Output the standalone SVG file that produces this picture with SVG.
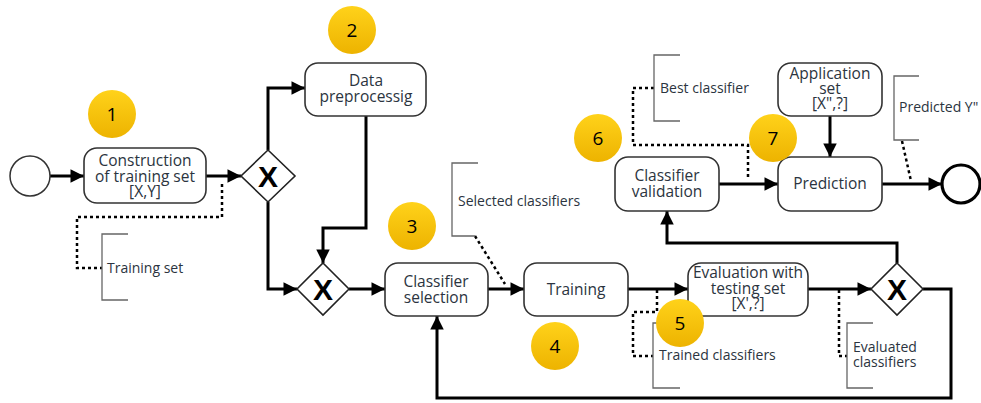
<svg xmlns="http://www.w3.org/2000/svg" width="981" height="403" viewBox="0 0 981 403">
<defs>
<linearGradient id="gold" x1="0" y1="0" x2="0" y2="1">
<stop offset="0" stop-color="#FFD21A"/>
<stop offset="1" stop-color="#EDB300"/>
</linearGradient>
<marker id="arr" viewBox="0 0 10 10" refX="10" refY="5" markerWidth="5" markerHeight="4.5" markerUnits="strokeWidth" orient="auto">
<path d="M0,0 L10,5 L0,10 z" fill="#000"/>
</marker>
</defs>
<style>
.task{fill:#fff;stroke:#333;stroke-width:1.6}
.gw{fill:#fff;stroke:#222;stroke-width:1.6}
.gx{font-family:"Liberation Sans",Arial,sans-serif;font-weight:bold;font-size:30px;fill:#000;text-anchor:middle}
.t{font-family:"Open Sans","Noto Sans",sans-serif;font-size:15.5px;fill:#2b3440;text-anchor:middle}
.a{font-family:"Open Sans","Noto Sans",sans-serif;font-size:14px;fill:#2b3440}
.flow{fill:none;stroke:#000;stroke-width:3;marker-end:url(#arr)}
.dot{fill:none;stroke:#000;stroke-width:2.5;stroke-dasharray:3 3}
.br{fill:none;stroke:#666;stroke-width:1.3}
.num{fill:url(#gold)}
.nt{font-family:"Open Sans","Noto Sans",sans-serif;font-size:19px;fill:#000;text-anchor:middle}
</style>

<g id="connectors">
<path class="flow" d="M50,176 L84,176"/>
<path class="flow" d="M206,176 L241,176"/>
<path class="flow" d="M268,150 L268,88 L305,88"/>
<path class="flow" d="M268,202 L268,289 L297,289"/>
<path class="flow" d="M366,116 L366,228 L323,228 L323,263"/>
<path class="flow" d="M349,289 L385,289"/>
<path class="flow" d="M488,289 L524,289"/>
<path class="flow" d="M628,289 L688,289"/>
<path class="flow" d="M808,289 L871,289"/>
<path class="flow" d="M923,289 L951,289 L951,398 L437,398 L437,316"/>
<path class="flow" d="M897,263 L897,243 L667,243 L667,211"/>
<path class="flow" d="M719,184 L778,184"/>
<path class="flow" d="M830,116 L830,157"/>
<path class="flow" d="M882,184 L942,184"/>
<path class="dot" d="M222,184 L222,217 L77,217 L77,268 L102,268"/>
<path class="dot" d="M475,236 L505,284"/>
<path class="dot" d="M657,290 L657,312 L633,312 L633,356 L653,356"/>
<path class="dot" d="M839,290 L839,356 L847,356"/>
<path class="dot" d="M654,88 L633,88 L633,145 L748,145 L748,180"/>
<path class="dot" d="M902,141 L911,181"/>
</g>

<g id="start"><circle cx="30" cy="176" r="20" fill="#fff" stroke="#333" stroke-width="1.5"/></g>
<g id="end"><circle cx="961" cy="184" r="19" fill="#fff" stroke="#000" stroke-width="3.2"/></g>

<g id="construction">
<rect class="task" x="84" y="148" width="122" height="55" rx="13"/>
<text class="t" x="145" y="166">Construction</text>
<text class="t" x="145" y="181.5">of training set</text>
<text class="t" x="145" y="197">[X,Y]</text>
</g>

<g id="gw1">
<path class="gw" d="M268,150 L295,176 L268,202 L241,176 z"/>
<text class="gx" x="268" y="187">X</text>
</g>

<g id="preprocessing">
<rect class="task" x="305" y="63" width="121" height="53" rx="13"/>
<text class="t" x="366" y="86">Data</text>
<text class="t" x="366" y="102">preprocessig</text>
</g>

<g id="gw2">
<path class="gw" d="M323,263 L349,289 L323,315 L297,289 z"/>
<text class="gx" x="323" y="300">X</text>
</g>

<g id="selection">
<rect class="task" x="385" y="263" width="103" height="53" rx="13"/>
<text class="t" x="436" y="287">Classifier</text>
<text class="t" x="436" y="303">selection</text>
</g>

<g id="training">
<rect class="task" x="524" y="263" width="104" height="53" rx="13"/>
<text class="t" x="576" y="295">Training</text>
</g>

<g id="evaluation">
<rect class="task" x="688" y="263" width="120" height="53" rx="13"/>
<text class="t" x="748" y="278">Evaluation with</text>
<text class="t" x="748" y="294">testing set</text>
<text class="t" x="748" y="309">[X',?]</text>
</g>

<g id="gw3">
<path class="gw" d="M897,263 L923,289 L897,315 L871,289 z"/>
<text class="gx" x="897" y="300">X</text>
</g>

<g id="validation">
<rect class="task" x="615" y="157" width="104" height="54" rx="13"/>
<text class="t" x="667" y="181">Classifier</text>
<text class="t" x="667" y="197">validation</text>
</g>

<g id="prediction">
<rect class="task" x="778" y="157" width="104" height="54" rx="13"/>
<text class="t" x="830" y="189">Prediction</text>
</g>

<g id="application">
<rect class="task" x="778" y="63" width="104" height="53" rx="13"/>
<text class="t" x="830" y="79">Application</text>
<text class="t" x="830" y="94">set</text>
<text class="t" x="830" y="109">[X",?]</text>
</g>

<g id="ann-training-set">
<path class="br" d="M128,234 L102,234 L102,300 L128,300"/>
<text class="a" x="107" y="273">Training set</text>
</g>
<g id="ann-selected">
<path class="br" d="M478,163 L452,163 L452,236 L475,236"/>
<text class="a" x="458" y="206">Selected classifiers</text>
</g>
<g id="ann-trained">
<path class="br" d="M680,323 L653,323 L653,388 L680,388"/>
<text class="a" x="659" y="360">Trained classifiers</text>
</g>
<g id="ann-evaluated">
<path class="br" d="M873,323 L847,323 L847,388 L873,388"/>
<text class="a" x="853" y="352">Evaluated</text>
<text class="a" x="853" y="367">classifiers</text>
</g>
<g id="ann-best">
<path class="br" d="M680,55 L654,55 L654,121 L680,121"/>
<text class="a" x="660" y="93">Best classifier</text>
</g>
<g id="ann-predicted">
<path class="br" d="M919,76 L894,76 L894,140 L919,140"/>
<text class="a" x="899" y="112">Predicted Y"</text>
</g>

<g id="n1"><circle class="num" cx="112" cy="114" r="24"/><text class="nt" x="112" y="121">1</text></g>
<g id="n2"><circle class="num" cx="352" cy="30" r="24"/><text class="nt" x="352" y="37">2</text></g>
<g id="n3"><circle class="num" cx="412" cy="226" r="24"/><text class="nt" x="412" y="233">3</text></g>
<g id="n4"><circle class="num" cx="555" cy="346" r="24"/><text class="nt" x="555" y="353">4</text></g>
<g id="n5"><circle class="num" cx="680" cy="323" r="24"/><text class="nt" x="680" y="330">5</text></g>
<g id="n6"><circle class="num" cx="598" cy="138" r="24"/><text class="nt" x="598" y="145">6</text></g>
<g id="n7"><circle class="num" cx="773" cy="138" r="24"/><text class="nt" x="773" y="145">7</text></g>
</svg>
